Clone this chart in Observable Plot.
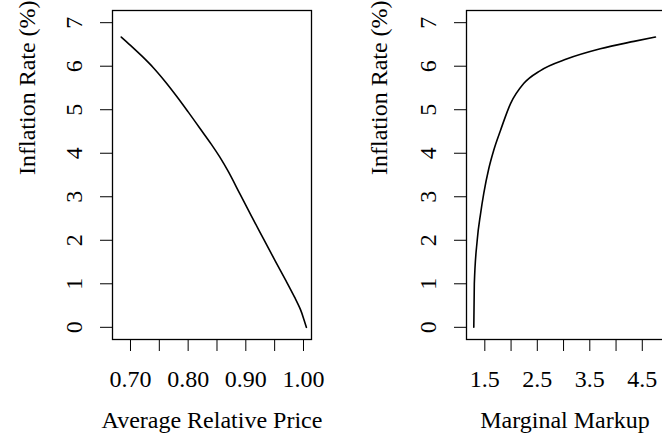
<!DOCTYPE html>
<html>
<head>
<meta charset="utf-8">
<script src="https://cdn.jsdelivr.net/npm/d3@7"></script>
<script src="https://cdn.jsdelivr.net/npm/@observablehq/plot@0.6"></script>
<style>
  html, body { margin: 0; padding: 0; background: white; overflow: hidden; }
  #wrap { position: relative; width: 662px; height: 443px; overflow: hidden; background: white; }
  #wrap svg { position: absolute; top: 0; font-family: "Liberation Serif", "Times New Roman", Times, serif !important; }
  #wrap svg text, #wrap svg g { font-family: "Liberation Serif", "Times New Roman", Times, serif !important; }
</style>
</head>
<body>
<div id="wrap"></div>
<script>
// ---- data ----
const leftPrice = [0.684, 0.700, 0.720, 0.740, 0.760, 0.780, 0.800, 0.820, 0.840, 0.855,
                   0.870, 0.890, 0.910, 0.930, 0.950, 0.970, 0.985, 0.995, 1.001, 1.005];
const leftInflation = [6.67, 6.48, 6.23, 5.96, 5.65, 5.31, 4.95, 4.58, 4.21, 3.91,
                       3.57, 3.06, 2.55, 2.05, 1.55, 1.06, 0.68, 0.40, 0.17, 0.0];

const rightMarkup = [1.29, 1.30, 1.355, 1.42, 1.48, 1.576, 1.67, 1.80, 1.99, 2.24, 2.56, 3.07, 3.70, 4.34, 4.75];
const rightInflation = [0.0, 1.0, 2.0, 2.62, 3.08, 3.65, 4.07, 4.53, 5.14, 5.60, 5.90, 6.17, 6.40, 6.57, 6.67];

const yTicks = [0, 1, 2, 3, 4, 5, 6, 7];
const leftXTicks = [0.70, 0.75, 0.80, 0.85, 0.90, 0.95, 1.00];
const leftXLabels = ["0.70", "", "0.80", "", "0.90", "", "1.00"];
const rightXTicks = [1.5, 2.0, 2.5, 3.0, 3.5, 4.0, 4.5];
const rightXLabels = ["1.5", "", "2.5", "", "3.5", "", "4.5"];

const yTitle = "Inflation Rate (%)";
const leftXTitle = "Average Relative Price";
const rightXTitle = "Marginal Markup";

const leftData = leftPrice.map((x, i) => ({x, y: leftInflation[i]}));
const rightData = rightMarkup.map((x, i) => ({x, y: rightInflation[i]}));

const font = "Liberation Serif";
const fs = 24;

function panel({width, marginLeft, marginRight, xDomain, xTicks, xLabels, xTitle, data, curve, titleDx}) {
  return Plot.plot({
    width, height: 443,
    marginLeft, marginRight, marginTop: 10, marginBottom: 104,
    style: {fontFamily: font, fontSize: fs + "px", background: "transparent", color: "black", overflow: "visible"},
    x: {domain: xDomain},
    y: {domain: [-0.28, 7.28]},
    marks: [
      Plot.axisY(yTicks, {tickSize: 12, tickPadding: 19, tickRotate: -90, label: null, fontSize: fs, fontFamily: font}),
      Plot.axisX(xTicks, {tickSize: 12, tickPadding: 18, label: null, fontSize: fs, fontFamily: font,
        tickFormat: (d) => xLabels[xTicks.indexOf(d)]}),
      Plot.frame({stroke: "black", strokeWidth: 1.3}),
      Plot.line(data, {x: "x", y: "y", curve, stroke: "black", strokeWidth: 1.6}),
      Plot.text([xTitle], {frameAnchor: "bottom", dy: 88, fontSize: fs, fontFamily: font}),
      Plot.text([yTitle], {frameAnchor: "left", dx: titleDx, rotate: -90, fontSize: fs, fontFamily: font})
    ]
  });
}

const left = panel({
  width: 331, marginLeft: 112, marginRight: 20,
  xDomain: [0.6688, 1.0139], xTicks: leftXTicks, xLabels: leftXLabels,
  xTitle: leftXTitle, data: leftData, curve: "catmull-rom", titleDx: -85
});
left.style.left = "0px";

const right = panel({
  width: 340, marginLeft: 135, marginRight: 8,
  xDomain: [1.151, 4.904], xTicks: rightXTicks, xLabels: rightXLabels,
  xTitle: rightXTitle, data: rightData, curve: "monotone-x", titleDx: -87
});
right.style.left = "331px";

const wrap = document.getElementById("wrap");
wrap.appendChild(left);
wrap.appendChild(right);
</script>
</body>
</html>
